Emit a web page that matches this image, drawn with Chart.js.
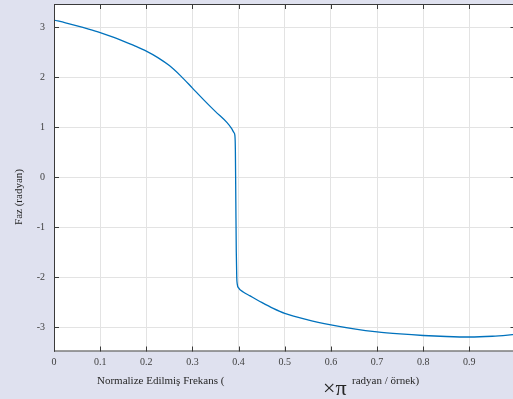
<!DOCTYPE html>
<html>
<head>
<meta charset="utf-8">
<script src="https://cdn.jsdelivr.net/npm/chart.js@4.4.1/dist/chart.umd.min.js"></script>
<style>
  html, body { margin: 0; padding: 0; overflow: hidden; background: #dfe1ef; }
  #chart { display: block; }
</style>
</head>
<body>
<canvas id="chart" width="540" height="399"></canvas>
<script>
// normalized frequency (x pi rad/sample)
const freq = [0, 0.025, 0.05, 0.075, 0.1, 0.125, 0.15, 0.175, 0.2, 0.225, 0.25, 0.275,
  0.3, 0.325, 0.35, 0.375, 0.385, 0.39, 0.392, 0.393, 0.394, 0.395, 0.396, 0.397, 0.4,
  0.41, 0.425, 0.45, 0.475, 0.5, 0.55, 0.6, 0.65, 0.7, 0.75, 0.8, 0.85, 0.9, 0.95, 1.0];
// phase (radians)
const phase = [3.14, 3.085, 3.025, 2.96, 2.89, 2.81, 2.72, 2.625, 2.52, 2.39, 2.23, 2.02,
  1.78, 1.54, 1.31, 1.09, 0.97, 0.89, 0.83, 0.55, -0.50, -1.50, -2.00, -2.13, -2.21,
  -2.29, -2.37, -2.50, -2.62, -2.72, -2.85, -2.95, -3.03, -3.09, -3.13, -3.16, -3.18,
  -3.19, -3.175, -3.14];

const yTitle = "Faz (radyan)";
const xTitleLeft = "Normalize Edilmiş Frekans (";
const xTitlePi = "×π";
const xTitleRight = "radyan / örnek)";

const serif = "'Liberation Serif', 'Times New Roman', serif";
const pageBg = "#dfe1ef";
const axisColor = "#3a3a3a";

//background, box, inward ticks and titles
const matlabAxes = {
  id: "matlabAxes",
  beforeDraw(chart) {
    const ctx = chart.ctx, a = chart.chartArea;
    ctx.save();
    ctx.fillStyle = pageBg;
    ctx.fillRect(0, 0, chart.width, chart.height);
    ctx.fillStyle = "#ffffff";
    ctx.fillRect(a.left, a.top, a.right - a.left, a.bottom - a.top);
    ctx.restore();
  },
  afterDraw(chart) {
    const ctx = chart.ctx, a = chart.chartArea;
    const xs = chart.scales.x, ys = chart.scales.y;
    ctx.save();
    ctx.strokeStyle = axisColor;
    ctx.lineWidth = 1;
    ctx.beginPath();
    ctx.moveTo(a.left + 0.5, a.top + 0.5);
    ctx.lineTo(a.right, a.top + 0.5);
    ctx.moveTo(a.left + 0.5, a.top);
    ctx.lineTo(a.left + 0.5, a.bottom);
    ctx.moveTo(a.left, a.bottom - 0.5);
    ctx.lineTo(a.right, a.bottom - 0.5);
    ctx.moveTo(a.right - 0.5, a.top);
    ctx.lineTo(a.right - 0.5, a.bottom);
    xs.ticks.forEach(t => {
      const px = Math.round(xs.getPixelForValue(t.value)) + 0.5;
      ctx.moveTo(px, a.bottom);
      ctx.lineTo(px, a.bottom - 5);
      ctx.moveTo(px, a.top);
      ctx.lineTo(px, a.top + 5);
    });
    ys.ticks.forEach(t => {
      const py = Math.round(ys.getPixelForValue(t.value)) + 0.5;
      ctx.moveTo(a.left, py);
      ctx.lineTo(a.left + 5, py);
      ctx.moveTo(a.right, py);
      ctx.lineTo(a.right - 5, py);
    });
    ctx.stroke();

    //axis titles
    ctx.fillStyle = "#262626";
    ctx.textBaseline = "middle";
    ctx.font = "11px " + serif;
    ctx.save();
    ctx.translate(19, 197);
    ctx.rotate(-Math.PI / 2);
    ctx.textAlign = "center";
    ctx.fillText(yTitle, 0, 0);
    ctx.restore();

    ctx.textAlign = "left";
    ctx.fillText(xTitleLeft, 97, 381);
    ctx.fillText(xTitleRight, 352, 381);
    ctx.font = "22px " + serif;
    ctx.fillText(xTitlePi, 323, 389);
    ctx.restore();
  }
};

let ctx = document.getElementById("chart").getContext("2d");

let chart = new Chart(ctx, {
  type: "line",
  data: {
    datasets: [{
      data: freq.map((f, i) => ({ x: f, y: phase[i] })),
      borderColor: "#0072bd",
      borderWidth: 1.3,
      pointRadius: 0,
      fill: false,
      cubicInterpolationMode: "monotone"
    }]
  },
  options: {
    responsive: false,
    animation: false,
    devicePixelRatio: 1,
    layout: { padding: { left: 0, top: 4, right: 24.5, bottom: 0 } },
    plugins: { legend: { display: false }, tooltip: { enabled: false } },
    scales: {
      x: {
        type: "linear",
        min: 0,
        max: 1,
        afterFit: s => { s.height = 47.5; s.paddingLeft = 0; s.paddingRight = 0; },
        border: { display: false },
        grid: { color: "#e3e3e3", drawTicks: false },
        ticks: {
          stepSize: 0.1,
          includeBounds: false,
          padding: 5,
          maxRotation: 0,
          autoSkip: false,
          color: "#404040",
          font: { family: serif, size: 10 },
          callback: v => (Math.abs(v - 1) < 1e-9 ? "" : Math.round(v * 10) / 10)
        }
      },
      y: {
        type: "linear",
        min: -3.48,
        max: 3.46,
        afterFit: s => { s.width = 54; s.paddingTop = 0; s.paddingBottom = 0; },
        border: { display: false },
        grid: { color: "#e3e3e3", drawTicks: false },
        ticks: {
          stepSize: 1,
          includeBounds: false,
          padding: 9,
          color: "#404040",
          font: { family: serif, size: 10 }
        }
      }
    }
  },
  plugins: [matlabAxes]
});
</script>
</body>
</html>
